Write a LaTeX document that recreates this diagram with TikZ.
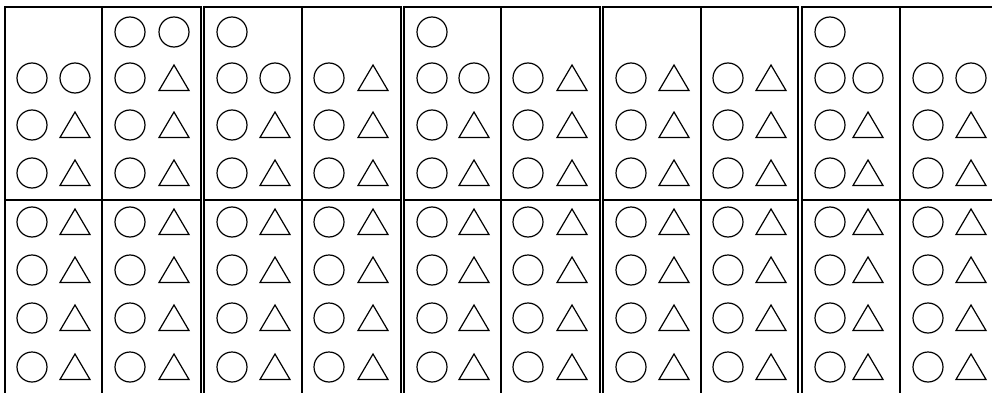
\documentclass[tikz,border=0pt]{standalone}
\tikzset{
  frame/.style={draw=black, line width=1.7pt},
  shp/.style={draw=black, line width=1.2pt},
  circ/.pic={\draw[shp] (0,0) circle (15);},
  tri/.pic={\draw[shp, line join=miter] (-15,12.5) -- (15,12.5) -- (0,-13) -- cycle;}
}
\newcommand\shaperow[4]{%
  \ifcase#1\relax
  \or \pic at (#2,#4) {circ};
  \or \pic at (#2,#4) {circ}; \pic at (#3,#4) {circ};
  \or \pic at (#2,#4) {circ}; \pic at (#3,#4) {tri};
  \fi}
\begin{document}
\begin{tikzpicture}[x=1pt,y=-1pt]
\fill[white] (0,0) rectangle (992,393);
\clip (0,0) rectangle (992,393);
% group frames
\foreach \l/\m/\r in {5/102/201, 204/302/401, 404/501/600, 603/701/798, 802/900/1000}{
  \draw[frame] (\l,7) rectangle (\r,400);
  \draw[frame] (\m,7) -- (\m,400);
  \draw[frame] (\l,200) -- (\r,200);
}
% columns: x1 / x2 / row1 code / row2 code
\foreach \xa/\xb/\ra/\rb in {32/75/0/2, 130/174/2/3, 232/275/1/2, 329/373/0/3,
    432/474/1/2, 528/572/0/3, 631/674/0/3, 728/771/0/3, 830/868/1/2, 928/971/0/2}{
  \shaperow{\ra}{\xa}{\xb}{32}
  \shaperow{\rb}{\xa}{\xb}{78}
  \shaperow{3}{\xa}{\xb}{125}
  \shaperow{3}{\xa}{\xb}{173}
  \shaperow{3}{\xa}{\xb}{222}
  \shaperow{3}{\xa}{\xb}{270}
  \shaperow{3}{\xa}{\xb}{318}
  \shaperow{3}{\xa}{\xb}{367}
}
\end{tikzpicture}
\end{document}
